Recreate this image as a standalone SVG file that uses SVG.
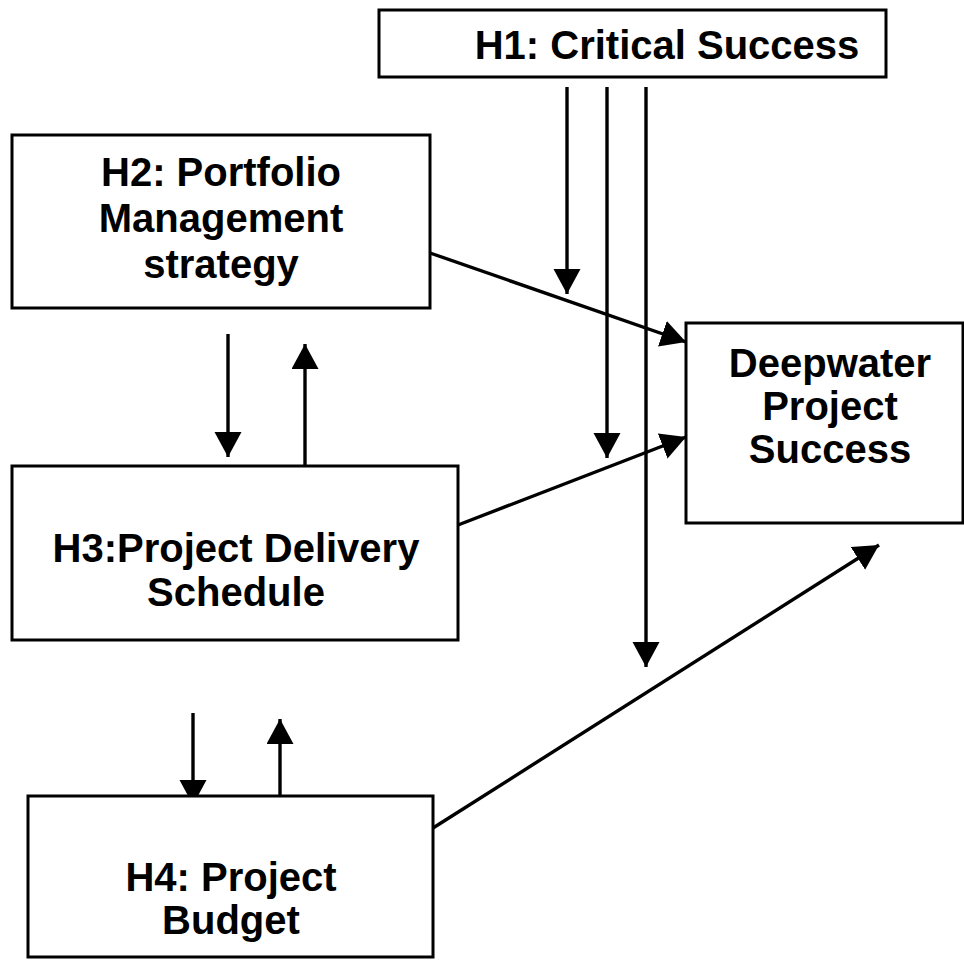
<svg xmlns="http://www.w3.org/2000/svg" width="964" height="960" viewBox="0 0 964 960">
  <style>
    .box { fill: #ffffff; stroke: #000000; stroke-width: 3; }
    .lbl { font-family: "Liberation Sans", Arial, Helvetica, sans-serif; font-weight: bold; font-size: 40px; fill: #000000; text-anchor: middle; }
    .link { fill: none; stroke: #000000; stroke-width: 3.4; marker-end: url(#head); }
  </style>
  <defs>
    <marker id="head" markerUnits="userSpaceOnUse" markerWidth="26" markerHeight="28" refX="25" refY="13.5" orient="auto">
      <path d="M0,0 L25,13.5 L0,27 Z" fill="#000000"/>
    </marker>
  </defs>
  <rect width="964" height="960" fill="#ffffff"/>

  <!-- connectors -->
  <g id="connectors">
    <line class="link" x1="567" y1="87" x2="567" y2="294"/>
    <line class="link" x1="607" y1="87" x2="607" y2="458"/>
    <line class="link" x1="646" y1="87" x2="646" y2="667"/>
    <line class="link" x1="430" y1="253" x2="686" y2="342"/>
    <line class="link" x1="458" y1="525" x2="686" y2="437"/>
    <line class="link" x1="433" y1="828" x2="879" y2="545"/>
    <line class="link" x1="228" y1="334" x2="228" y2="457"/>
    <line class="link" x1="305" y1="466" x2="305" y2="344"/>
    <line class="link" x1="193" y1="713" x2="193" y2="805"/>
    <line class="link" x1="280" y1="806" x2="280" y2="719"/>
  </g>

  <!-- H1 -->
  <g id="h1">
    <rect class="box" x="379" y="10" width="507" height="67"/>
    <text class="lbl" x="667" y="59">H1: Critical Success</text>
  </g>

  <!-- H2 -->
  <g id="h2">
    <rect class="box" x="12" y="135" width="418" height="173"/>
    <text class="lbl" x="221" y="186">H2: Portfolio</text>
    <text class="lbl" x="221" y="232">Management</text>
    <text class="lbl" x="221" y="278">strategy</text>
  </g>

  <!-- H3 -->
  <g id="h3">
    <rect class="box" x="12" y="466" width="446" height="174"/>
    <text class="lbl" x="236" y="562">H3:Project Delivery</text>
    <text class="lbl" x="236" y="606">Schedule</text>
  </g>

  <!-- H4 -->
  <g id="h4">
    <rect class="box" x="28" y="796" width="405" height="161"/>
    <text class="lbl" x="231" y="891">H4: Project</text>
    <text class="lbl" x="231" y="934">Budget</text>
  </g>

  <!-- Outcome -->
  <g id="success">
    <rect class="box" x="686" y="323" width="277" height="200"/>
    <text class="lbl" x="830" y="377">Deepwater</text>
    <text class="lbl" x="830" y="420">Project</text>
    <text class="lbl" x="830" y="463">Success</text>
  </g>
</svg>
